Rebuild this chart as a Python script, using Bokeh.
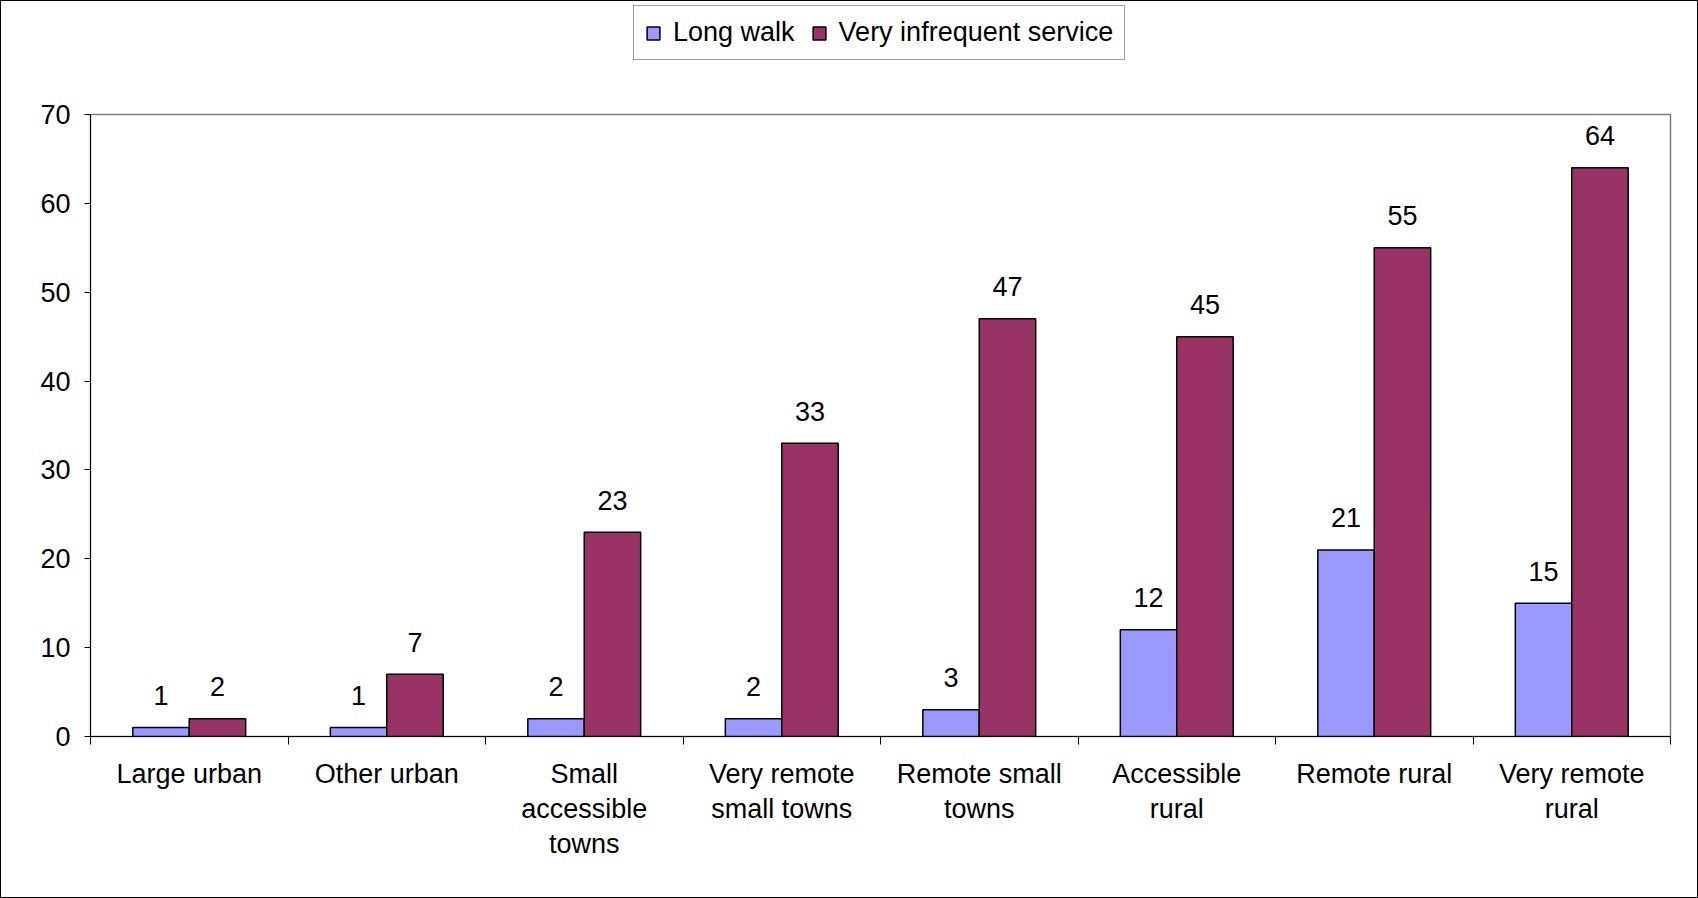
from bokeh.plotting import figure
from bokeh.layouts import column
from bokeh.models import ColumnDataSource, FixedTicker, Range1d, Legend, LegendItem
from bokeh.embed import file_html
from bokeh.resources import INLINE
from bokeh.core.properties import value

# ---- data ----
categories = ["Large urban", "Other urban", "Small\naccessible\ntowns",
              "Very remote\nsmall towns", "Remote small\ntowns", "Accessible\nrural",
              "Remote rural", "Very remote\nrural"]
long_walk = [1, 1, 2, 2, 3, 12, 21, 15]
very_infrequent = [2, 7, 23, 33, 47, 45, 55, 64]
series_names = ["Long walk", "Very infrequent service"]
y_ticks = [0, 10, 20, 30, 40, 50, 60, 70]

colors = ["#9999FF", "#993366"]
FONT = "Liberation Sans"
FS = "27px"
W = 1696
TOP_H = 98
MAIN_H = 896 - TOP_H

n = len(categories)
# each category occupies 2 units on the x scale; centres at odd values
centres = [2 * i + 1 for i in range(n)]
bar_w = 2 / 3.5  # Excel gap width 150%
x_lw = [c - bar_w / 2 for c in centres]
x_vi = [c + bar_w / 2 for c in centres]

src_lw = ColumnDataSource(dict(x=x_lw, top=long_walk, lab=[str(v) for v in long_walk]))
src_vi = ColumnDataSource(dict(x=x_vi, top=very_infrequent, lab=[str(v) for v in very_infrequent]))

# ---- main chart ----
p = figure(width=W, height=MAIN_H, output_backend="svg", toolbar_location=None,
           x_range=Range1d(0, 2 * n), y_range=Range1d(0, 70),
           min_border_left=89, min_border_right=27, min_border_top=15, min_border_bottom=161)
p.background_fill_color = "white"
p.border_fill_color = "white"
p.outline_line_color = "#808080"
p.outline_line_width = 1.5
p.xgrid.visible = False
p.ygrid.visible = False

r1 = p.vbar(x="x", top="top", width=bar_w, bottom=0, source=src_lw,
            fill_color=colors[0], line_color="black", line_width=1.5)
r2 = p.vbar(x="x", top="top", width=bar_w, bottom=0, source=src_vi,
            fill_color=colors[1], line_color="black", line_width=1.5)

for s in (src_lw, src_vi):
    p.text(x="x", y="top", text="lab", source=s, text_align="center",
           text_baseline="alphabetic", y_offset=-32, text_font=value(FONT),
           text_font_size=FS, text_color="black")

xa = p.xaxis[0]
xa.ticker = FixedTicker(ticks=centres, minor_ticks=[2 * i for i in range(n + 1)])
xa.major_label_overrides = {c: lab for c, lab in zip(centres, categories)}
xa.major_tick_out = 0
xa.major_tick_in = 0
xa.minor_tick_out = 8
xa.minor_tick_in = 0
xa.minor_tick_line_color = "black"
xa.axis_line_color = "black"
xa.major_label_text_font = FONT
xa.major_label_text_font_size = FS
xa.major_label_text_color = "black"
xa.major_label_text_line_height = 1.17
xa.major_label_standoff = 14

ya = p.yaxis[0]
ya.ticker = FixedTicker(ticks=y_ticks, minor_ticks=[])
ya.major_tick_out = 6
ya.major_tick_in = 0
ya.major_tick_line_color = "black"
ya.axis_line_color = "black"
ya.major_label_text_font = FONT
ya.major_label_text_font_size = FS
ya.major_label_text_color = "black"
ya.major_label_standoff = 14

# ---- legend strip above the chart ----
top = figure(width=W, height=TOP_H, output_backend="svg", toolbar_location=None,
             x_range=Range1d(0, W), y_range=Range1d(0, TOP_H),
             x_axis_location=None, y_axis_location=None,
             min_border_left=0, min_border_right=0, min_border_top=0, min_border_bottom=0)
top.outline_line_color = None
top.background_fill_color = "white"
top.border_fill_color = "white"
top.xgrid.visible = False
top.ygrid.visible = False
d1 = top.vbar(x=[-1000], top=[1], width=1, fill_color=colors[0], line_color="black",
              line_width=1.5, visible=False)
d2 = top.vbar(x=[-1000], top=[1], width=1, fill_color=colors[1], line_color="black",
              line_width=1.5, visible=False)

legend = Legend(items=[LegendItem(label=series_names[0], renderers=[d1]),
                       LegendItem(label=series_names[1], renderers=[d2])],
                orientation="horizontal", location=(543, 39),
                glyph_width=16, glyph_height=16, label_standoff=12, spacing=16,
                padding=11, margin=0, label_height=27,
                label_text_font=FONT, label_text_font_size=FS, label_text_color="black",
                border_line_color="#404040", border_line_width=1,
                background_fill_color="white", background_fill_alpha=1)
top.add_layout(legend, "center")

layout = column(top, p, spacing=0)
layout.styles = {"border": "1px solid black"}

open("out.html", "w").write(file_html(layout, INLINE))
